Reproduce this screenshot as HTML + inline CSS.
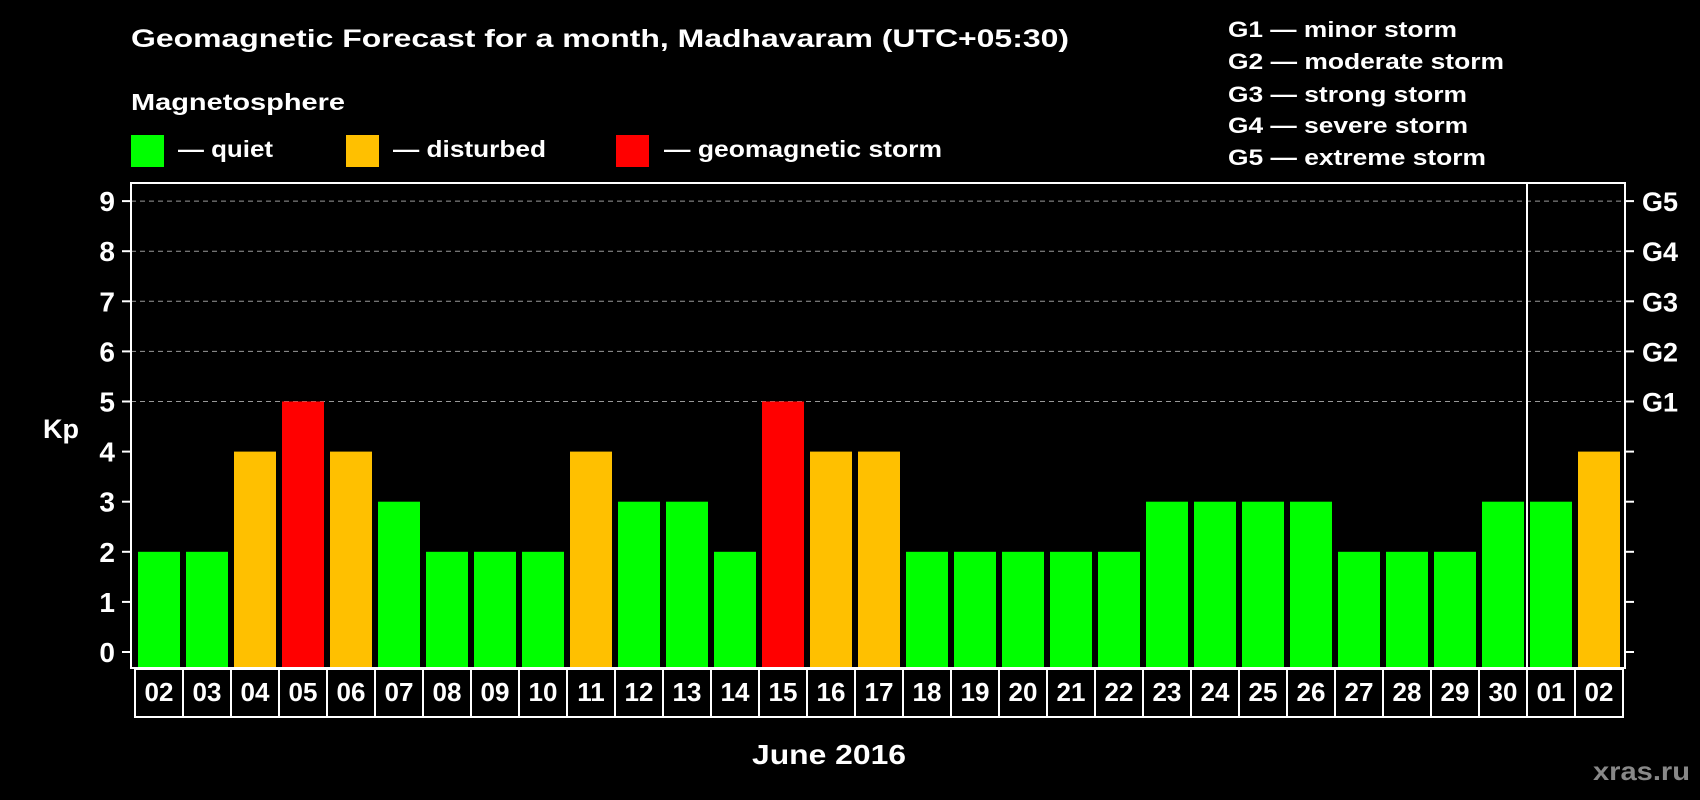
<!DOCTYPE html>
<html><head><meta charset="utf-8"><style>
html,body{margin:0;padding:0;background:#000;width:1700px;height:800px;overflow:hidden}
svg{display:block}
text{font-family:"Liberation Sans",Arial,sans-serif;font-weight:bold;fill:#fff}
</style></head><body>
<svg id="chart" width="1700" height="800" viewBox="0 0 1700 800" xmlns="http://www.w3.org/2000/svg">
<text x="131" y="47" font-size="25" textLength="938" lengthAdjust="spacingAndGlyphs">Geomagnetic Forecast for a month, Madhavaram (UTC+05:30)</text>
<text x="131" y="110" font-size="23" textLength="214" lengthAdjust="spacingAndGlyphs">Magnetosphere</text>
<rect x="131" y="135" width="33" height="32" fill="#00ff00"/>
<text x="178" y="157" font-size="23" textLength="95" lengthAdjust="spacingAndGlyphs">— quiet</text>
<rect x="346" y="135" width="33" height="32" fill="#ffc000"/>
<text x="393" y="157" font-size="23" textLength="153" lengthAdjust="spacingAndGlyphs">— disturbed</text>
<rect x="616" y="135" width="33" height="32" fill="#ff0000"/>
<text x="664" y="157" font-size="23" textLength="278" lengthAdjust="spacingAndGlyphs">— geomagnetic storm</text>
<g font-size="22">
<text x="1228" y="37" textLength="229" lengthAdjust="spacingAndGlyphs">G1 — minor storm</text>
<text x="1228" y="69" textLength="276" lengthAdjust="spacingAndGlyphs">G2 — moderate storm</text>
<text x="1228" y="102" textLength="239" lengthAdjust="spacingAndGlyphs">G3 — strong storm</text>
<text x="1228" y="133" textLength="240" lengthAdjust="spacingAndGlyphs">G4 — severe storm</text>
<text x="1228" y="165" textLength="258" lengthAdjust="spacingAndGlyphs">G5 — extreme storm</text>
</g>
<g id="plot"></g>
<text x="43" y="438" font-size="27">Kp</text>
<text x="752" y="764" font-size="28" textLength="154" lengthAdjust="spacingAndGlyphs">June 2016</text>
<text x="1593" y="780" font-size="26" style="fill:#888" textLength="97" lengthAdjust="spacingAndGlyphs">xras.ru</text>
</svg>
<script>
const days = ["02","03","04","05","06","07","08","09","10","11","12","13","14","15","16","17","18","19","20","21","22","23","24","25","26","27","28","29","30","01","02"];
const kpValues = [2,2,4,5,4,3,2,2,2,4,3,3,2,5,4,4,2,2,2,2,2,3,3,3,3,2,2,2,3,3,4];
const yTicks = [0,1,2,3,4,5,6,7,8,9];
const gLabels = ["G1","G2","G3","G4","G5"];
const monthBreakIndex = 29;

const NS = "http://www.w3.org/2000/svg";
const L = 131, R = 1625, T = 183, B = 668, SLOT = 48;
const y = v => 652 - v * 50.1;
const x = i => L + i * SLOT;
const g = document.getElementById('plot');
function mk(tag, attrs){const e=document.createElementNS(NS,tag);for(const k in attrs)e.setAttribute(k,attrs[k]);g.appendChild(e);return e;}

yTicks.forEach(v=>{
  if(v>=5){
    const ln = mk('line',{x1:L,x2:R,y1:y(v),y2:y(v),stroke:'#999','stroke-width':1,'stroke-dasharray':'5,4'});
    
    
  }
  const t1 = mk('line',{x1:L-9,x2:L,y1:y(v),y2:y(v),stroke:'#fff','stroke-width':2});
  
  
  const t2 = mk('line',{x1:R,x2:R+9,y1:y(v),y2:y(v),stroke:'#fff','stroke-width':2});
  
  
  const lb = mk('text',{x:115,y:y(v)+10,'text-anchor':'end','font-size':28});
  lb.textContent = v;
  
  
});
gLabels.forEach((s,i)=>{
  const lb = mk('text',{x:1642,y:y(5+i)+10,'font-size':27});
  lb.textContent = s;
  
  
});
kpValues.forEach((v,i)=>{
  const col = v>=5?'#ff0000':(v>=4?'#ffc000':'#00ff00');
  const b = mk('rect',{x:x(i)+7,y:y(v),width:42,height:B-1-y(v),fill:col});
  
  
  const bx = mk('rect',{x:x(i)+4,y:B+1,width:SLOT,height:48,fill:'none',stroke:'#fff','stroke-width':2});
  
  
  const t = mk('text',{x:x(i)+4+SLOT/2,y:B+33,'text-anchor':'middle','font-size':26});
  t.textContent = days[i];
  
  
});
const frame = mk('rect',{x:L,y:T,width:R-L,height:B-T,fill:'none',stroke:'#fff','stroke-width':2});


const div = mk('line',{x1:x(monthBreakIndex)+4,x2:x(monthBreakIndex)+4,y1:T,y2:B+49,stroke:'#fff','stroke-width':2});


</script>
</body></html>
